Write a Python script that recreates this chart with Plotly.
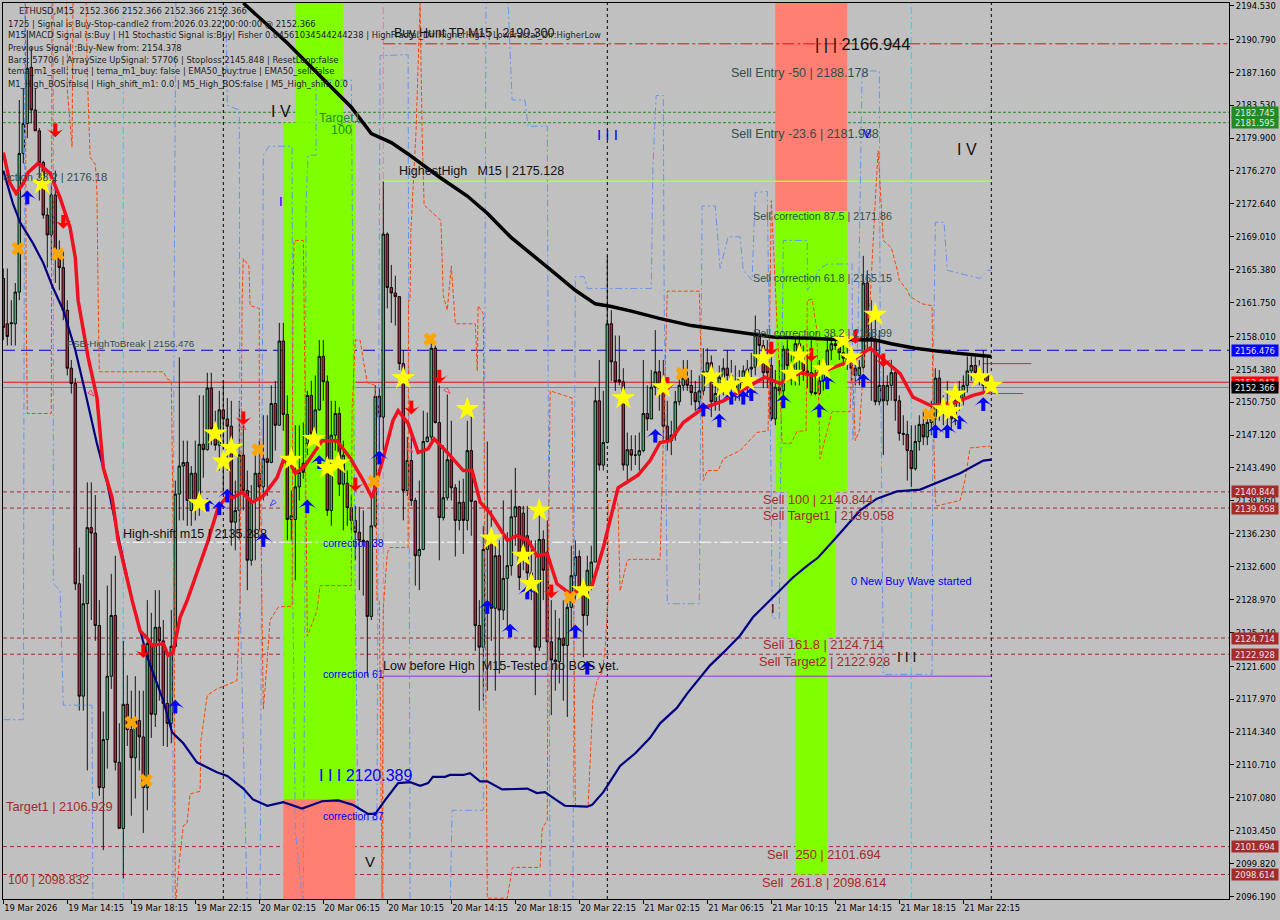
import plotly.graph_objects as go

# ---- candles (bar index is position in the lists; 16 bars = 4 hours)
opens = [2164.4,2159.4,2159.4,2159.4,2162.9,2178.2,2181.5,2187.7,2183.0,2180.7,2177.2,2171.4,2169.2,2173.6,2167.2,2165.6,
2160.9,2154.5,2152.8,2130.7,2118.3,2128.5,2136.9,2136.3,2126.1,2108.2,2113.5,2120.5,2127.2,2111.0,2103.7,2117.4,
2114.6,2111.5,2115.6,2113.8,2108.2,2124.1,2116.3,2125.9,2124.4,2117.5,2115.3,2123.8,2140.6,2143.7,2144.1,2138.8,
2142.9,2139.9,2146.1,2145.5,2152.3,2147.8,2146.0,2149.9,2148.9,2148.1,2137.5,2138.8,2144.9,2141.0,2133.3,2139.9,
2142.9,2141.4,2144.5,2144.1,2150.6,2148.2,2157.5,2149.4,2137.8,2137.8,2141.4,2144.0,2146.2,2151.5,2147.3,2149.9,
2155.8,2153.0,2138.8,2147.1,2149.5,2141.7,2141.8,2139.1,2137.7,2136.4,2135.5,2135.4,2127.1,2137.1,2151.4,2149.1,
2169.3,2163.4,2162.8,2162.4,2155.0,2141.0,2144.3,2139.9,2133.8,2134.5,2146.4,2146.9,2156.7,2148.5,2138.0,2140.2,
2144.4,2141.3,2137.7,2139.7,2137.7,2145.4,2139.8,2126.1,2123.7,2134.5,2135.4,2128.0,2133.8,2127.8,2131.3,2132.7,
2138.1,2139.2,2138.5,2136.0,2131.9,2130.0,2123.7,2135.6,2134.2,2124.3,2122.3,2122.1,2124.7,2123.9,2128.1,2131.6,
2133.7,2130.0,2127.2,2130.5,2133.1,2150.9,2143.8,2146.3,2159.4,2155.2,2153.2,2153.0,2143.8,2145.5,2144.9,2144.9,
2145.4,2149.5,2148.9,2152.4,2154.1,2153.1,2148.1,2146.5,2147.1,2150.8,2152.6,2153.4,2152.6,2151.8,2150.8,2152.0,
2154.1,2155.1,2150.8,2151.7,2153.5,2154.5,2153.7,2152.8,2152.0,2153.4,2153.7,2154.4,2154.6,2158.1,2157.0,2155.0,
2154.8,2148.9,2152.4,2152.0,2156.6,2154.8,2154.0,2157.2,2155.6,2154.2,2154.0,2151.8,2151.7,2153.1,2154.8,2156.5,
2157.2,2157.0,2156.2,2155.6,2155.3,2154.5,2153.7,2154.6,2163.9,2157.9,2157.6,2150.8,2152.6,2150.9,2152.6,2154.0,
2150.9,2147.3,2147.2,2145.4,2143.4,2146.4,2148.3,2146.9,2148.5,2148.9,2153.4,2150.1,2149.6,2150.4,2148.9,2150.9,
2151.2,2152.6,2154.2,2154.8,2154.0,2153.5,2153.7,2152.366]
highs = [2165.5,2165.5,2162.0,2163.9,2184.1,2185.4,2191.8,2189.9,2185.4,2181.0,2177.4,2172.2,2174.7,2176.3,2168.6,2167.5,
2162.0,2155.4,2153.4,2134.7,2131.7,2141.9,2141.9,2140.5,2128.9,2116.6,2130.5,2131.8,2133.8,2115.3,2124.4,2120.6,
2118.9,2120.5,2118.9,2118.9,2128.9,2127.5,2130.0,2130.0,2126.7,2123.3,2127.8,2142.1,2155.7,2146.5,2146.5,2143.7,
2146.5,2151.5,2151.5,2154.0,2154.0,2149.8,2152.0,2153.1,2151.2,2150.9,2142.1,2150.9,2148.7,2143.2,2141.6,2144.9,
2146.5,2149.3,2149.3,2152.6,2153.1,2159.5,2159.5,2151.5,2141.0,2148.2,2148.2,2148.5,2152.0,2153.1,2153.7,2157.6,
2157.6,2153.7,2150.9,2150.9,2150.2,2146.5,2143.2,2140.5,2139.3,2139.2,2138.8,2135.5,2140.5,2152.6,2152.3,2175.1,
2169.5,2165.9,2164.7,2162.4,2156.5,2146.9,2147.1,2140.2,2142.1,2149.8,2149.6,2157.6,2157.0,2152.6,2146.0,2151.6,
2148.7,2141.7,2142.1,2142.3,2148.7,2149.8,2139.9,2128.9,2137.1,2146.4,2138.8,2136.0,2135.5,2139.9,2136.4,2141.1,
2143.5,2139.3,2139.3,2139.3,2135.5,2135.5,2138.8,2136.6,2137.7,2128.9,2127.8,2126.9,2128.9,2129.4,2134.9,2135.5,
2134.4,2131.1,2133.8,2134.9,2152.4,2155.4,2152.0,2166.9,2160.9,2158.1,2158.1,2154.5,2147.4,2147.1,2147.1,2147.4,
2155.4,2152.6,2154.3,2158.7,2155.4,2155.4,2150.9,2148.7,2152.0,2154.3,2155.4,2155.4,2154.3,2153.1,2153.7,2156.7,
2156.7,2155.9,2153.7,2154.8,2155.6,2156.5,2155.4,2154.8,2154.3,2154.8,2155.4,2156.2,2160.3,2158.7,2157.6,2157.6,
2157.0,2154.3,2155.4,2157.0,2157.6,2155.9,2158.1,2158.1,2157.0,2156.5,2157.6,2154.3,2155.4,2155.7,2157.6,2158.1,
2158.1,2157.8,2157.6,2157.0,2156.5,2155.4,2155.4,2166.9,2165.3,2162.0,2160.9,2158.7,2155.4,2153.7,2155.4,2154.2,
2151.5,2149.3,2148.7,2148.2,2148.2,2149.3,2149.8,2149.3,2150.9,2154.5,2154.3,2151.5,2153.1,2152.0,2152.6,2153.1,
2153.7,2155.8,2155.8,2155.8,2155.4,2156.5,2155.6,2152.366]
lows = [2157.6,2157.0,2157.0,2157.0,2162.0,2177.1,2179.9,2181.5,2180.7,2173.0,2171.0,2165.6,2166.4,2163.9,2163.1,2159.8,
2153.7,2151.7,2130.0,2116.7,2116.7,2110.1,2126.7,2124.4,2107.3,2101.3,2110.3,2119.1,2110.1,2103.7,2098.2,2112.8,
2105.1,2107.0,2110.1,2103.2,2105.7,2113.7,2114.9,2117.8,2112.8,2112.7,2113.1,2123.6,2137.7,2137.7,2137.1,2137.1,
2137.7,2138.2,2142.4,2145.4,2146.0,2145.4,2143.2,2141.0,2143.2,2134.9,2134.4,2135.5,2138.8,2130.0,2132.7,2133.3,
2136.6,2139.9,2140.4,2144.0,2145.4,2148.2,2147.6,2135.5,2135.5,2131.1,2139.9,2142.3,2144.9,2146.5,2146.5,2149.8,
2150.9,2138.2,2137.1,2145.4,2140.4,2136.6,2137.1,2136.6,2133.3,2130.0,2129.4,2120.5,2126.7,2136.9,2145.4,2145.4,
2161.1,2159.5,2159.2,2154.3,2137.7,2140.4,2139.3,2130.5,2130.0,2134.4,2146.3,2146.5,2148.4,2133.3,2137.7,2139.9,
2139.9,2133.7,2136.6,2134.0,2136.6,2136.0,2123.3,2116.7,2117.8,2118.9,2124.4,2118.9,2120.8,2126.7,2125.5,2131.6,
2134.9,2130.0,2132.2,2130.0,2128.9,2118.4,2123.3,2128.9,2122.2,2116.2,2118.9,2119.7,2117.8,2116.0,2125.5,2128.9,
2130.0,2122.6,2126.1,2130.0,2133.1,2143.2,2143.2,2146.2,2153.1,2152.0,2152.6,2143.2,2142.1,2143.2,2143.8,2143.2,
2145.2,2147.6,2148.9,2151.5,2149.8,2146.5,2145.4,2144.9,2146.5,2150.4,2152.0,2152.0,2150.4,2149.8,2149.8,2151.5,
2153.1,2149.1,2149.8,2149.8,2151.5,2151.5,2152.0,2150.9,2150.9,2151.5,2151.5,2152.6,2153.7,2154.8,2152.3,2152.3,
2148.7,2148.2,2151.5,2151.5,2154.3,2152.6,2152.6,2152.6,2153.1,2152.3,2151.5,2151.5,2151.5,2152.0,2154.3,2155.4,
2156.5,2155.4,2154.8,2154.3,2153.1,2152.6,2152.6,2154.3,2156.5,2150.9,2150.4,2150.4,2144.9,2150.4,2150.9,2148.7,
2146.5,2146.0,2142.1,2141.4,2143.2,2145.4,2146.0,2146.0,2147.1,2148.2,2148.7,2148.2,2148.2,2147.6,2148.2,2149.8,
2150.4,2151.8,2153.1,2153.1,2152.6,2152.0,2151.8,2152.366]
closes = [2159.0,2158.0,2159.5,2162.9,2178.2,2181.5,2187.6,2183.0,2180.7,2177.2,2171.4,2169.2,2173.6,2167.2,2165.6,2160.9,
2154.5,2152.8,2130.7,2118.3,2128.5,2136.9,2136.3,2126.1,2108.2,2113.5,2120.5,2127.2,2111.0,2103.7,2117.4,2114.6,
2111.5,2115.6,2113.8,2108.2,2124.1,2116.3,2125.9,2124.4,2117.5,2115.3,2123.8,2140.6,2143.7,2144.1,2139.9,2142.9,
2139.9,2146.1,2145.5,2152.3,2147.8,2146.0,2149.9,2148.9,2148.1,2137.5,2138.8,2144.9,2141.0,2133.3,2139.9,2142.9,
2141.4,2144.5,2144.1,2150.6,2148.2,2157.5,2149.4,2137.8,2138.2,2141.4,2143.0,2143.0,2151.5,2147.3,2149.9,2155.8,
2153.0,2138.8,2147.1,2149.5,2141.7,2144.9,2139.1,2137.7,2136.4,2135.5,2135.4,2127.1,2137.1,2151.4,2149.1,2169.3,
2163.4,2162.8,2162.4,2155.0,2141.0,2144.3,2139.9,2133.8,2134.5,2146.4,2146.9,2156.7,2148.5,2138.0,2140.2,2144.4,
2141.3,2137.7,2139.7,2137.7,2145.4,2139.8,2126.1,2123.7,2134.5,2135.4,2128.0,2133.8,2127.8,2131.3,2132.7,2138.1,
2139.2,2131.4,2134.7,2131.9,2130.5,2123.7,2135.6,2132.2,2124.3,2122.3,2122.1,2124.7,2123.9,2128.1,2131.6,2133.7,
2130.0,2127.2,2132.2,2133.1,2150.9,2143.8,2146.3,2159.4,2155.2,2153.0,2153.0,2143.8,2145.5,2144.9,2144.9,2145.4,
2149.5,2148.9,2152.4,2154.1,2152.3,2148.1,2146.5,2147.1,2150.8,2152.6,2153.4,2152.6,2151.8,2150.8,2152.0,2154.1,
2155.1,2150.8,2151.7,2153.5,2154.5,2153.7,2152.8,2152.0,2153.4,2154.2,2154.4,2154.6,2158.1,2157.0,2154.0,2154.0,
2148.9,2152.4,2152.0,2156.6,2154.8,2154.0,2157.2,2155.6,2154.2,2154.0,2151.8,2151.7,2153.1,2154.8,2156.5,2157.2,
2157.0,2156.2,2155.6,2155.3,2154.5,2153.7,2154.6,2163.9,2157.9,2157.6,2150.8,2152.6,2150.9,2152.6,2154.0,2150.9,
2147.3,2147.2,2145.4,2143.4,2146.4,2148.3,2146.9,2148.5,2148.9,2153.4,2150.1,2149.6,2150.4,2148.9,2150.9,2152.0,
2152.6,2154.2,2154.8,2154.0,2153.5,2152.6,2152.3,2152.366]
n = min(len(opens), len(highs), len(lows), len(closes))
bars = list(range(n))

# ---- indicator lines: bar index / price pairs
black_x = [60,71,87,92,97,101,109,116,121,127,137,143,148,152,157,164,172,185,193,202,207,218,222,228,235,247]
black_y = [2194.8,2190.4,2183.3,2180.4,2179.4,2178.2,2175.6,2173.5,2171.6,2168.9,2165.3,2163.1,2161.6,2161.3,2160.8,2160.0,2159.2,2158.4,2157.9,2157.8,2157.7,2157.6,2157.2,2156.7,2156.3,2155.8]
navy_x = [0,2.4,4.2,7.4,10,12.4,15,18,20.4,23.4,26,28.4,32.2,36,40,42.2,45,48.4,53.4,56,60,62.4,66,70,74.7,79.7,83.7,87.4,91.2,93,95.4,98.7,101.7,104.2,106.2,107.4,110.4,111.7,115,116.7,119.2,121,124.7,131,133.4,135.4,138.4,140.4,146,147.2,150,154.2,158,161.7,164.2,168.4,171,176.7,180,184.2,187.4,191.7,197.4,201,203.7,208,214.2,218.4,223.4,229.2,232.4,239.2,245,247]
navy_y = [2176.3,2172.7,2170.6,2168.3,2166.1,2163.4,2160.9,2156.5,2152.0,2146.2,2141.8,2136.6,2128.9,2122.6,2117.8,2114.3,2113.1,2111.0,2109.9,2109.5,2108.1,2106.9,2106.2,2106.6,2105.9,2106.7,2106.8,2106.3,2105.3,2105.3,2106.8,2108.7,2108.8,2108.4,2108.7,2109.4,2109.4,2109.6,2109.6,2109.8,2108.9,2108.9,2108.0,2108.1,2107.6,2107.7,2106.8,2106.2,2106.1,2106.3,2107.7,2110.6,2112.0,2113.7,2115.3,2117.0,2118.6,2121.7,2123.1,2125.0,2127.0,2128.9,2131.4,2132.7,2133.6,2135.7,2138.8,2140.1,2140.9,2141.1,2141.7,2142.9,2144.3,2144.4]
red_x = [0,1.7,3.2,5,6.2,8.7,11.7,14.2,16.7,18,18.7,21.2,23.4,25,27.2,28.7,32.2,34.2,36,37.2,40,41.2,42.4,44.2,46,47.4,51,53.7,56,57.4,59.7,62.2,65,68.4,70,71.7,73,75.4,79.7,83.4,86.7,90,92.2,95,97.4,98.7,101.2,103.7,106.2,107.7,111,115,117.2,119.2,121.7,126,128.4,131.2,133.4,136,138.4,141.7,147.2,150,153.7,158.7,161.7,164.2,166.7,170,175,180,186,190.4,194.2,199.2,202.4,207.4,212.4,216.7,221,224.2,227.4,231.7,237.4,242.4,246.7]
red_y = [2178.3,2174.9,2173.8,2174.9,2176.1,2177.1,2176.0,2173.3,2170.0,2166.7,2162.0,2155.7,2151.3,2143.5,2140.2,2135.5,2128.9,2125.5,2124.7,2123.9,2124.1,2122.8,2123.1,2127.0,2128.9,2130.7,2135.2,2139.1,2140.4,2140.2,2140.8,2139.7,2140.4,2142.4,2144.3,2144.0,2142.9,2143.7,2146.5,2146.5,2144.6,2142.1,2140.2,2144.6,2148.7,2149.8,2148.4,2145.2,2145.6,2146.7,2145.2,2143.2,2143.2,2139.7,2138.5,2135.5,2136.0,2135.5,2133.8,2134.0,2130.7,2129.6,2130.5,2134.7,2141.3,2142.7,2144.3,2146.3,2146.5,2148.5,2150.1,2150.9,2152.4,2153.5,2152.8,2154.0,2153.7,2154.6,2155.4,2156.7,2155.1,2153.9,2151.3,2150.4,2150.6,2151.5,2152.0]
upper_x = [0,5,5.2,5.4,12.5,12.5,14.2,15,22.2,22.4,42.4,42.4,42.7,43,43.2,55.5,56,59,59.2,60,61,64.2,64.7,65,66.4,72.2,72.4,73,75,75.4,75.7,76.2,78.2,78.2,87,87.2,88,88.7,93.4,94.2,101.2,101.7,111.7,112.2,120,120.7,121,126,126.2,127.2,130.4,131.2,136,136.7,142.4,143,145.2,146,162,162.4,163.2,165,165.2,166,174,174.7,178,179.2,181.2,184.2,185,187.2,188,191,192,192.2,194,194.2,195,201,201,204.2,206,212.2,212.4,213.7,214.7,219,219.2,220,232.2,232.4,233,235.2,236,238,244.2,246.2,247]
upper_y = [2115.7,2115.7,2158.1,2200,2200,2130.7,2130.0,2117.3,2117.3,2095,2095,2109.0,2162,2185.2,2200,2200,2183.5,2183.0,2128.9,2113.4,2095,2095,2162,2178,2179,2179,2128.9,2103.5,2095,2128.9,2173,2178,2178,2186.3,2186.3,2176.3,2128.9,2104.6,2104.6,2189,2189.1,2095,2095,2105.7,2105.7,2200,2200,2200,2194.8,2184.1,2184.1,2181.2,2181.2,2095,2095,2164.6,2164.6,2163.3,2163.3,2176.6,2184.6,2184.6,2163.1,2128.5,2128.5,2172.4,2172.4,2165.5,2169,2169,2165.3,2164.2,2173.9,2174,2139.9,2126.9,2126.9,2137.7,2168.6,2168.6,2163.1,2165.5,2166,2166,2146.5,2158.7,2187.3,2187.3,2162,2120.7,2120.7,2150.9,2170.6,2170.6,2165.3,2165.1,2164.4,2165.3,2165.3]
lower_x = [5.5,5.7,6,12,12.2,15.5,16,16,16.7,17.2,17.5,20.5,21,21.7,23,23.4,23.7,24,40,41,42,42.7,43,43.2,44,45,45.9,46.7,49.2,49.4,51,53.4,55,58.4,59.2,59.7,60,61.4,61.7,64,64,64.7,65,65.4,66.7,68.7,70,72.2,72.4,72.7,75,75.2,75.4,76,78.4,79.2,87,87.2,88,89.2,90,91,93,93.4,94,94.5,94.7,95,96,96.7,101.2,101.3,101.7,101.9,103.2,104.2,104.7,105.2,109.4,110,111,112,113,118,118.5,118.7,120,120.5,121,126,127.2,127.5,134.2,134.7,135,136,136.2,136.7,142.2,142.4,143,146.2,146.7,147.4,148.4,149.7,150.4,151.2,151.2,153.4,153.7,154.2,156,156.7,164.2,166,174,174.7,175,176,178.7,180,184.2,188.4,191.2,191.7,192,194,194.7,197,198.4,200.7,201,202.2,203.4,204.2,205.4,207.2,211.7,212.2,213,214,215,216.7,218,218.7,220,222,223.5,224,226,226.7,229.7,232.2,232.4,233,233.4,239.2,240.4,241.7,246.7]
lower_y = [2200,2162,2149.5,2149.5,2200,2200,2190.7,2185.2,2181.5,2178.9,2200,2200,2187,2177.8,2177,2174.1,2162.8,2154.1,2154.1,2153.3,2153.1,2128.9,2095,2096,2100.1,2104,2104.2,2107.5,2107.8,2113.4,2118.4,2119.1,2119.4,2120,2128.9,2162,2166.6,2165.8,2161.4,2161.1,2150.9,2128.9,2116.9,2118.9,2126.7,2128.1,2128.2,2128.2,2162,2168.6,2168.6,2162,2150.9,2124.9,2127.7,2130.5,2130.5,2150,2157.6,2157.6,2155.4,2152.9,2152.6,2128.9,2128.9,2097.9,2096,2128,2134.1,2134.7,2134.7,2162,2162,2169.7,2180.8,2194.8,2180.7,2172.5,2170.8,2162.5,2160.9,2165.8,2159.4,2159.4,2154.2,2161.4,2160.5,2128.9,2096,2096,2099.3,2099.4,2099.4,2103.5,2103.9,2104.6,2128.9,2152,2151.2,2139.9,2106.1,2106.1,2111.2,2117.8,2120,2120.9,2123.3,2128.9,2139.9,2139.9,2139.3,2129.9,2133.3,2133.4,2133.4,2163,2163,2150.9,2142.1,2143.2,2143.2,2144.5,2145.4,2147.4,2147.6,2162,2173,2154.2,2146.2,2146.2,2147.5,2147.6,2162,2162.1,2158.7,2144.5,2146.5,2149.7,2149.7,2155.4,2146.5,2147.6,2154.2,2162,2173,2178.5,2168.6,2167.8,2165.3,2164.2,2163.1,2162.4,2161.6,2161.4,2150.9,2139.9,2139.3,2139.9,2142.1,2145.7,2145.9]

# ---- signal markers
star_x = [9.7,53,57,55,49,72,77.7,81,83.7,100,116,122,130,132,134,145,155,165,177,180,182,186,190,197,199,205,210,212,218,235,237,238,244,247]
star_y = [2174.9,2147.3,2145.7,2144.2,2139.6,2144.4,2146.7,2143.5,2144,2153.4,2150,2135.7,2133.8,2130.7,2138.8,2130,2151.2,2152.4,2153.6,2152.4,2152.7,2153.1,2155.6,2153.9,2155.9,2154.4,2157.6,2155.7,2160.4,2150,2149.8,2151.6,2153.5,2152.6]
cross_x = [3.7,13.7,63.7,32,35.7,106.7,92.7,141.7,169.7,231.4]
cross_y = [2167.7,2167.1,2145.5,2115.4,2109,2157.7,2142,2129.2,2153.9,2149.4]
up_x = [6,51,54,56,65,76,79,43,94,131,163,121,126.7,143,146,175,179,182,185,187,195,204,206,215,233,236,239,245]
up_y = [2174.1,2140.2,2139.8,2141.2,2136.3,2140,2144.9,2117.9,2145.4,2130.5,2147.8,2128.9,2126.3,2126.2,2122.2,2150.7,2149.5,2152,2152,2152.4,2151.6,2150.6,2153.7,2153.9,2148.3,2148.3,2149.3,2151.3]
down_x = [13,15,60,35,88,102,109,137,166,192,202,213,220,199]
down_y = [2180,2169.9,2148.2,2122.5,2140.9,2149.4,2152.8,2129.1,2152,2155.9,2155.2,2157.2,2154.6,2155.4]
hollow_x = [22.7,60.7,111.7,102.4]
hollow_y = [2151.4,2147.7,2151.7,2145.2]
hollow_blue_x = [66.7]
hollow_blue_y = [2139.3]

# ---- levels
dark_red_levels = [2140.844,2139.058,2124.714,2122.928,2101.694,2098.614]
green_levels = [2182.745,2181.595]
break_level = 2156.476
ask_level = 2152.947
bid_level = 2152.366
tp_level = 2190.300
highest_level = 2175.128
shift_level = 2135.288
low_level = 2120.5

# ---- zones: bar from, bar to, price low, price high
green_zones = [(73,85,2181.595,2200),(70,88,2106.929,2181.595),(193,211,2140.844,2171.86),(196,208,2124.714,2140.844),(198,206,2098.614,2124.714)]
salmon_zones = [(70,88,2090,2106.929),(193,211,2171.86,2200)]
separators = [55,151,247]
cyan_lines = [30,227]

price_ticks = [2194.53,2190.79,2187.16,2183.53,2179.90,2176.27,2172.64,2169.01,2165.38,2161.75,2158.01,2154.38,2150.75,2147.12,2143.49,2139.86,2136.23,2132.60,2128.97,2125.34,2121.60,2117.97,2114.34,2110.71,2107.08,2103.45,2099.82,2096.19]
time_ticks = list(range(0,256,16))
time_labels = ["19 Mar 2026","19 Mar 14:15","19 Mar 18:15","19 Mar 22:15","20 Mar 02:15","20 Mar 06:15","20 Mar 10:15","20 Mar 14:15","20 Mar 18:15","20 Mar 22:15","21 Mar 02:15","21 Mar 06:15","21 Mar 10:15","21 Mar 14:15","21 Mar 18:15","21 Mar 22:15"]
price_boxes = [(2182.745,"#228B22"),(2181.595,"#228B22"),(2156.476,"#0000FF"),(2152.947,"#FF0000"),(2152.366,"#000000"),(2140.844,"#A52A2A"),(2139.058,"#A52A2A"),(2124.714,"#A52A2A"),(2122.928,"#A52A2A"),(2101.694,"#A52A2A"),(2098.614,"#A52A2A")]

info_lines = [
 (18,11,"ETHUSD,M15  2152.366 2152.366 2152.366 2152.366"),
 (7,23,"1725 | Signal is Buy-Stop-candle2 from:2026.03.22 00:00:00 @ 2152.366"),
 (7,35,"M15 MACD Signal is:Buy | H1 Stochastic Signal is:Buy| Fisher 0.04561034544244238 | HighFractal_Dir:HigherHigh | LowFractal_Dir:HigherLow"),
 (7,47,"Previous Signal :Buy-New from: 2154.378"),
 (7,59,"Bars: 57706 | ArraySize UpSignal: 57706 | Stoploss 2145.848 | ResetLoop:false"),
 (7,71,"tema_m1_sell: true | tema_m1_buy: false | EMA50_buy:true | EMA50_sell:false"),
 (7,83,"M1_High_BOS:false | High_shift_m1: 0.0 | M5_High_BOS:false | M5_High_shift: 0.0"),
]
DS="#2F4F4F"; BR="#A52A2A"; BL="#0000FF"; BK="#111111"; FG="#228B22"
chart_labels = [
 (97.7,2191.5,"Buy Hunt TP M15 | 2190.300",12.5,BK),
 (203,2190.3,"| | | 2166.944",16.5,BK),
 (182,2187.1,"Sell Entry -50 | 2188.178",12.5,DS),
 (182,2180.4,"Sell Entry -23.6 | 2181.988",12.5,DS),
 (79,2182.1,"Target1",12.5,FG),
 (82,2180.8,"100",12.5,FG),
 (99,2176.3,"HighestHigh   M15 | 2175.128",12.5,BK),
 (67,2182.8,"I V",16,BK),
 (148.5,2180.3,"I I I",15,BL),
 (69,2172.9,"I",13,BL),
 (238.5,2178.6,"I V",16,BK),
 (90.5,2100,"V",15,BK),
 (79,2109.5,"I I I 2120.389",16,BL),
 (0,2175.6,"ection 38.2 | 2176.18",11.2,DS),
 (16,2157.2,"FSB-HighToBreak | 2156.476",9.8,DS),
 (30,2136.2,"High-shift m15 | 2135.288",12.6,BK),
 (80,2135.2,"correction 38",10.5,BL),
 (80,2120.8,"correction 61",10.5,BL),
 (80,2105.1,"correction 87",10.5,BL),
 (95,2121.6,"Low before High  M15-Tested no BOS yet.",12.6,BK),
 (187.5,2171.3,"Sell correction 87.5 | 2171.86",10.7,DS),
 (187.5,2164.4,"Sell correction 61.8 | 2165.15",10.7,DS),
 (187.5,2158.4,"Sell correction 38.2 | 2158.99",10.7,DS),
 (190,2140,"Sell 100 | 2140.844",12.8,BR),
 (190,2138.2,"Sell Target1 | 2139.058",12.8,BR),
 (190,2124,"Sell 161.8 | 2124.714",12.8,BR),
 (189,2122.1,"Sell Target2 | 2122.928",12.8,BR),
 (191,2100.8,"Sell  250 | 2101.694",12.8,BR),
 (189.7,2097.7,"Sell  261.8 | 2098.614",12.8,BR),
 (0.7,2106.1,"Target1 | 2106.929",12.8,BR),
 (1.2,2098.0,"100 | 2098.832",12.2,BR),
 (212,2131,"0 New Buy Wave started",11,BL),
 (223.5,2122.6,"I I I",14,BK),
 (192,2128,"I",13,BK),
 (215,2180.3,"V",12,BL),
]

FONT = "Liberation Sans"
SMALL = "DejaVu Sans Condensed, Liberation Sans, sans-serif"
SMALL_SIZE = 9.3
fig = go.Figure()

def line(x, y, color, width, dash="solid"):
    fig.add_trace(go.Scatter(x=x, y=y, mode="lines", line=dict(color=color, width=width, dash=dash), showlegend=False, hoverinfo="skip"))

line(upper_x, upper_y, "#6495ED", 1, "7px,3px,2px,3px")
line(lower_x, lower_y, "#FF4500", 1, "4px,2px")
fig.add_trace(go.Candlestick(x=bars, open=opens[:n], high=highs[:n], low=lows[:n], close=closes[:n],
    increasing=dict(line=dict(color="#000000", width=0.9), fillcolor="#3CB371"),
    decreasing=dict(line=dict(color="#000000", width=0.9), fillcolor="#C0203F"),
    whiskerwidth=0, showlegend=False, hoverinfo="skip"))
line(black_x, black_y, "#000000", 3.5)
line(navy_x, navy_y, "#000080", 2.2)
line(red_x, red_y, "#F01020", 3.5)

def marks(x, y, symbol, color, size, lw=0, lc=None, angle=0):
    fig.add_trace(go.Scatter(x=x, y=y, mode="markers", showlegend=False, hoverinfo="skip",
        marker=dict(symbol=symbol, color=color, size=size, angle=angle, line=dict(width=lw, color=lc or color))))

marks(up_x, [v-0.9 for v in up_y], "line-ns", "#0000FF", 8, 4, "#0000FF")
marks(up_x, up_y, "arrow-wide", "#0000FF", 13)
marks(down_x, [v+0.9 for v in down_y], "line-ns", "#FF0000", 8, 4, "#FF0000")
marks(down_x, down_y, "arrow-wide", "#FF0000", 13, angle=180)
marks(hollow_x, hollow_y, "arrow-open", "#FF4060", 7, 1, "#FF4060", 135)
marks(hollow_blue_x, hollow_blue_y, "arrow-open", "#4040FF", 7, 1, "#4040FF", 225)
marks(cross_x, cross_y, "x", "#FFA500", 12)
marks(star_x, star_y, "star", "#FFFF00", 18)

shapes = []
for x0,x1,y0,y1 in green_zones:
    shapes.append(dict(type="rect",xref="x",yref="y",x0=x0,x1=x1,y0=y0,y1=y1,fillcolor="#7FFF00",line=dict(width=0),layer="below"))
for x0,x1,y0,y1 in salmon_zones:
    shapes.append(dict(type="rect",xref="x",yref="y",x0=x0,x1=x1,y0=y0,y1=y1,fillcolor="#FF8072",line=dict(width=0),layer="below"))
def hline(y,color,dash,x0=None,x1=None,width=1):
    d=dict(type="line",yref="y",y0=y,y1=y,line=dict(color=color,dash=dash,width=width),layer="below")
    if x0 is None:
        d.update(xref="paper",x0=0,x1=1)
    else:
        d.update(xref="x",x0=x0,x1=x1)
    shapes.append(d)
for v in green_levels: hline(v,"#228B22","3px,2px")
for v in dark_red_levels: hline(v,"#A52A2A","4px,3px")
hline(break_level,"#0000CD","12px,6px")
hline(ask_level,"#E01010","solid")
hline(bid_level,"#778899","solid")
hline(tp_level,"#E01010","12px,3px,3px,3px",95,306)
hline(highest_level,"#ADFF2F","solid",95,247,1.4)
hline(shift_level,"#FFFFFF","12px,3px,3px,3px",27,196)
hline(low_level,"#9932CC","solid",95,247)
hline(2155.0,"#E8184A","solid",245,257)
hline(2151.7,"#9932CC","solid",243,255)
for b in separators:
    shapes.append(dict(type="line",xref="x",yref="paper",x0=b,x1=b,y0=0,y1=1,line=dict(color="#000000",dash="3px,3px",width=1),layer="below"))
for b in cyan_lines:
    shapes.append(dict(type="line",xref="x",yref="paper",x0=b,x1=b,y0=0,y1=1,line=dict(color="#00E5EE",dash="7px,3px,2px,3px",width=1),layer="below"))
shapes.append(dict(type="line",xref="x",yref="paper",x0=95,x1=95,y0=0,y1=1,line=dict(color="#FF69B4",dash="7px,3px,2px,3px",width=1),layer="below"))

annotations=[]
for x,y,t,s,c in chart_labels:
    annotations.append(dict(x=x,y=y,xref="x",yref="y",text=t,showarrow=False,xanchor="left",yanchor="middle",xshift=-2,font=dict(family=FONT,size=s,color=c)))
PW,PH=1226,896
for px,py,t in info_lines:
    annotations.append(dict(x=(px-3)/PW,y=1-(py-3)/PH,xref="paper",yref="paper",text=t,showarrow=False,xanchor="left",yanchor="middle",xshift=-1,font=dict(family=SMALL,size=SMALL_SIZE,color="#222222")))
for v,c in price_boxes:
    annotations.append(dict(x=(1231-3)/PW,y=v,xref="paper",yref="y",text=f"{v:.3f}",showarrow=False,xanchor="left",yanchor="middle",bgcolor=c,width=46,height=11,borderpad=0,align="center",font=dict(family=SMALL,size=SMALL_SIZE,color="#E6E6E6")))

fig.update_layout(width=1280,height=920,margin=dict(l=3,r=51,t=3,b=21,pad=0,autoexpand=False),paper_bgcolor="#C0C0C0",plot_bgcolor="#C0C0C0",
    showlegend=False,shapes=shapes,annotations=annotations,font=dict(family=SMALL,size=SMALL_SIZE,color="#000000"),boxgap=0.1,
    xaxis=dict(range=[-0.075,306.425],tickmode="array",tickvals=time_ticks,ticktext=time_labels,ticks="outside",ticklen=4,tickcolor="#000000",tickangle=0,automargin=False,ticklabeloverflow="allow",
        showgrid=False,zeroline=False,showline=True,linecolor="#000000",mirror=True,ticklabelposition="outside right",rangeslider=dict(visible=False),fixedrange=True),
    yaxis=dict(side="right",range=[2095.91,2194.806],tickmode="array",tickvals=price_ticks,ticktext=[f"{v:.3f}" for v in price_ticks],ticks="outside",ticklen=4,tickcolor="#000000",automargin=False,ticklabeloverflow="allow",
        showgrid=False,zeroline=False,showline=True,linecolor="#000000",mirror=True,fixedrange=True))
fig.write_html("out.html",post_script="document.body.style.margin='0';document.body.style.overflow='hidden';",config=dict(displayModeBar=False))
print(n)
